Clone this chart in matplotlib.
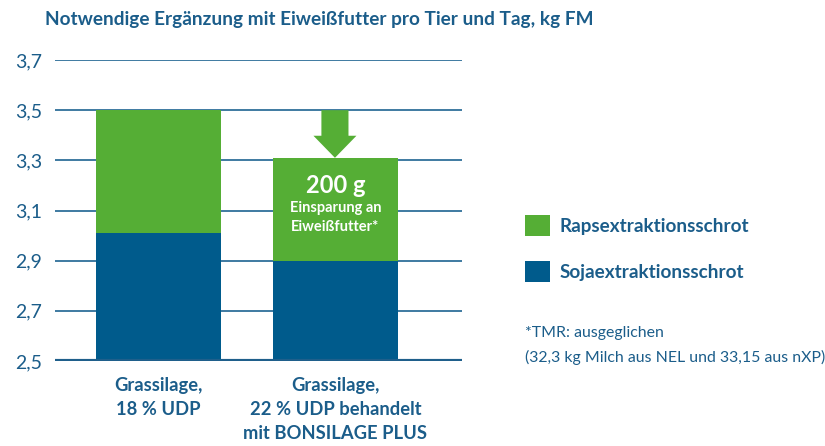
import matplotlib
matplotlib.use("Agg")
import matplotlib.pyplot as plt
from matplotlib.patches import FancyArrow, Patch

plt.rcParams['font.family'] = ['Lato', 'DejaVu Sans']

# ---- data ----
categories = ["Grassilage,\n18 % UDP", "Grassilage,\n22 % UDP behandelt\nmit BONSILAGE PLUS"]
soja = [3.01, 2.90]          # top of the Soja segment (bars start at 2.5)
raps_top = [3.50, 3.31]      # top of the Raps segment
base = 2.5
yticks = [2.5, 2.7, 2.9, 3.1, 3.3, 3.5, 3.7]
ytick_labels = ["2,5", "2,7", "2,9", "3,1", "3,3", "3,5", "3,7"]
title = "Notwendige Ergänzung mit Eiweißfutter pro Tier und Tag, kg FM"
series_names = ["Rapsextraktionsschrot", "Sojaextraktionsschrot"]
savings_lines = ["200 g", "Einsparung an", "Eiweißfutter*"]
footnote_lines = ["*TMR: ausgeglichen", "(32,3 kg Milch aus NEL und 33,15 aus nXP)"]

BLUE = "#005b8c"
GREEN = "#55ae35"
TEXT = "#1b5d8a"
GRID = "#2f6f9a"

W, H = 825, 446
fig = plt.figure(figsize=(W / 100, H / 100), dpi=100)
ax = fig.add_axes([55 / W, 1 - 361 / H, (462 - 55) / W, (361 - 60) / H])

x = [0, 1]
width = 0.706
soja_h = [s - base for s in soja]
raps_h = [r - s for r, s in zip(raps_top, soja)]
ax.bar(x, soja_h, bottom=base, width=width, color=BLUE, zorder=3)
ax.bar(x, raps_h, bottom=soja, width=width, color=GREEN, zorder=3)

ax.set_ylim(2.5, 3.7)
ax.set_xlim(-0.585, 1.715)
ax.set_yticks(yticks)
ax.set_yticklabels(ytick_labels, fontsize=14, color=TEXT)
ax.tick_params(axis='y', length=0, pad=9)
ax.set_xticks([])
for s in ax.spines.values():
    s.set_visible(False)
for yv in yticks[1:]:
    ax.axhline(yv, color=GRID, lw=1.3, zorder=1)
ax.axhline(2.5, color="#1f5f8b", lw=3, zorder=4)

# category labels
for xi, lab in zip(x, categories):
    ax.text(xi, 2.5 - 0.062, lab, ha='center', va='top', fontsize=13.2,
            fontweight='bold', color=TEXT, linespacing=1.52)

# arrow above bar 2
arr = FancyArrow(1 - 0.003, raps_top[0], 0, raps_top[1] - raps_top[0],
                 width=0.153, head_width=0.243, head_length=0.088,
                 length_includes_head=True, color=GREEN, lw=0, zorder=3)
ax.add_patch(arr)

ax.text(1, 3.198, savings_lines[0], ha='center', va='center', fontsize=17,
        fontweight='bold', color='white', zorder=5)
ax.text(1, 3.110, savings_lines[1], ha='center', va='center', fontsize=10.5,
        fontweight='bold', color='white', zorder=5)
ax.text(1, 3.034, savings_lines[2], ha='center', va='center', fontsize=10.5,
        fontweight='bold', color='white', zorder=5)

fig.text(45 / W, 1 - 19 / H, title, ha='left', va='center', fontsize=13.7,
         fontweight='bold', color=TEXT)

handles = [Patch(facecolor=GREEN, edgecolor='none'), Patch(facecolor=BLUE, edgecolor='none')]
leg = fig.legend(handles, series_names, loc='upper left',
                 bbox_to_anchor=(525 / W, 1 - 215 / H), frameon=False,
                 borderpad=0, borderaxespad=0, handlelength=1.32, handleheight=1.32,
                 handletextpad=0.5, labelspacing=1.32,
                 prop={'size': 13.6, 'weight': 'bold'})
for t in leg.get_texts():
    t.set_color(TEXT)

fig.text(525 / W, 1 - 333 / H, footnote_lines[0], ha='left', va='center', fontsize=11.4,
         color=TEXT)
fig.text(525 / W, 1 - 357 / H, footnote_lines[1], ha='left', va='center', fontsize=11.4,
         color=TEXT)

fig.savefig("out.png", dpi=100)
